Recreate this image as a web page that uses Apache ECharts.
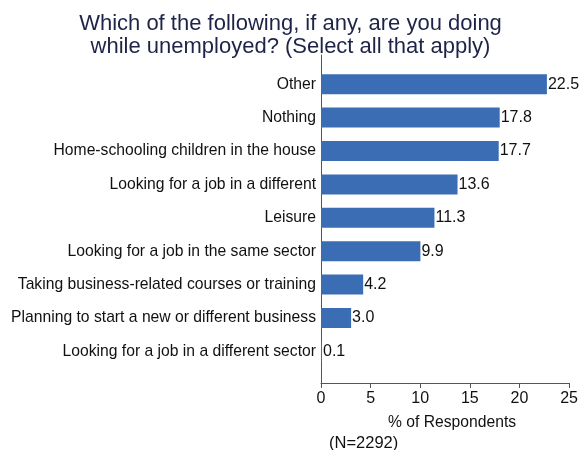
<!DOCTYPE html>
<html>
<head>
<meta charset="utf-8">
<script src="https://cdn.jsdelivr.net/npm/echarts@6/dist/echarts.min.js"></script>
<style>
html,body{margin:0;padding:0;background:#fff;}
#chart{width:581px;height:450px;}
</style>
</head>
<body>
<div id="chart"></div>
<script>
const categories = [
  "Other",
  "Nothing",
  "Home-schooling children in the house",
  "Looking for a job in a different",
  "Leisure",
  "Looking for a job in the same sector",
  "Taking business-related courses or training",
  "Planning to start a new or different business",
  "Looking for a job in a different sector"
];
const values = [22.5, 17.8, 17.7, 13.6, 11.3, 9.9, 4.2, 3.0, 0.1];
const xTicks = [0, 5, 10, 15, 20, 25];
const titleText = "Which of the following, if any, are you doing\nwhile unemployed? (Select all that apply)";
const xAxisName = "% of Respondents";
const noteText = "(N=2292)";

const font = "Liberation Sans, Arial, Helvetica, sans-serif";
const axisColor = "#555";
const barColor = "#3a6db3";

const chart = echarts.init(document.getElementById('chart'), null, {renderer: 'canvas'});
chart.setOption({
  backgroundColor: '#fff',
  animation: false,
  title: [
    {
      text: titleText,
      left: 'center',
      top: 7,
      textStyle: {fontFamily: font, fontSize: 22, fontWeight: 'normal', color: '#1e2448', lineHeight: 23}
    },
    {
      text: noteText,
      left: 324,
      top: 430,
      textStyle: {fontFamily: font, fontSize: 16.5, fontWeight: 'normal', color: '#111'}
    }
  ],
  grid: [
    {left: 321, right: 9, top: 67.5, height: 300.6, containLabel: false},
    {left: 321, right: 9, top: 55, bottom: 67, containLabel: false}
  ],
  xAxis: [
    {
      gridIndex: 0, type: 'value', min: 0, max: 25, interval: 5,
      show: false
    },
    {
      gridIndex: 1, type: 'value', min: xTicks[0], max: xTicks[xTicks.length - 1], interval: 5,
      axisLine: {show: true, onZero: false, lineStyle: {color: axisColor, width: 1}},
      axisTick: {show: true, length: 5, lineStyle: {color: axisColor}},
      splitLine: {show: false},
      axisLabel: {fontFamily: font, fontSize: 16, color: '#111', margin: 8},
      name: xAxisName,
      nameLocation: 'middle',
      nameGap: 32,
      nameTextStyle: {fontFamily: font, fontSize: 15.7, color: '#111', padding: [0, 0, 0, 14]}
    }
  ],
  yAxis: [
    {
      gridIndex: 0, type: 'category', data: categories, inverse: true,
      axisLine: {show: false},
      axisTick: {show: false},
      axisLabel: {fontFamily: font, fontSize: 15.7, color: '#111', margin: 5}
    },
    {
      gridIndex: 1, type: 'value', min: 0, max: 1,
      axisLine: {show: true, lineStyle: {color: axisColor, width: 1}},
      axisTick: {show: false},
      axisLabel: {show: false},
      splitLine: {show: false}
    }
  ],
  series: [
    {
      type: 'bar',
      xAxisIndex: 0,
      yAxisIndex: 0,
      data: values,
      barWidth: 20,
      itemStyle: {color: barColor},
      label: {
        show: true,
        position: 'right',
        distance: 1,
        fontFamily: font,
        fontSize: 16,
        color: '#111',
        formatter: p => p.value.toFixed(1)
      }
    }
  ]
});
</script>
</body>
</html>
